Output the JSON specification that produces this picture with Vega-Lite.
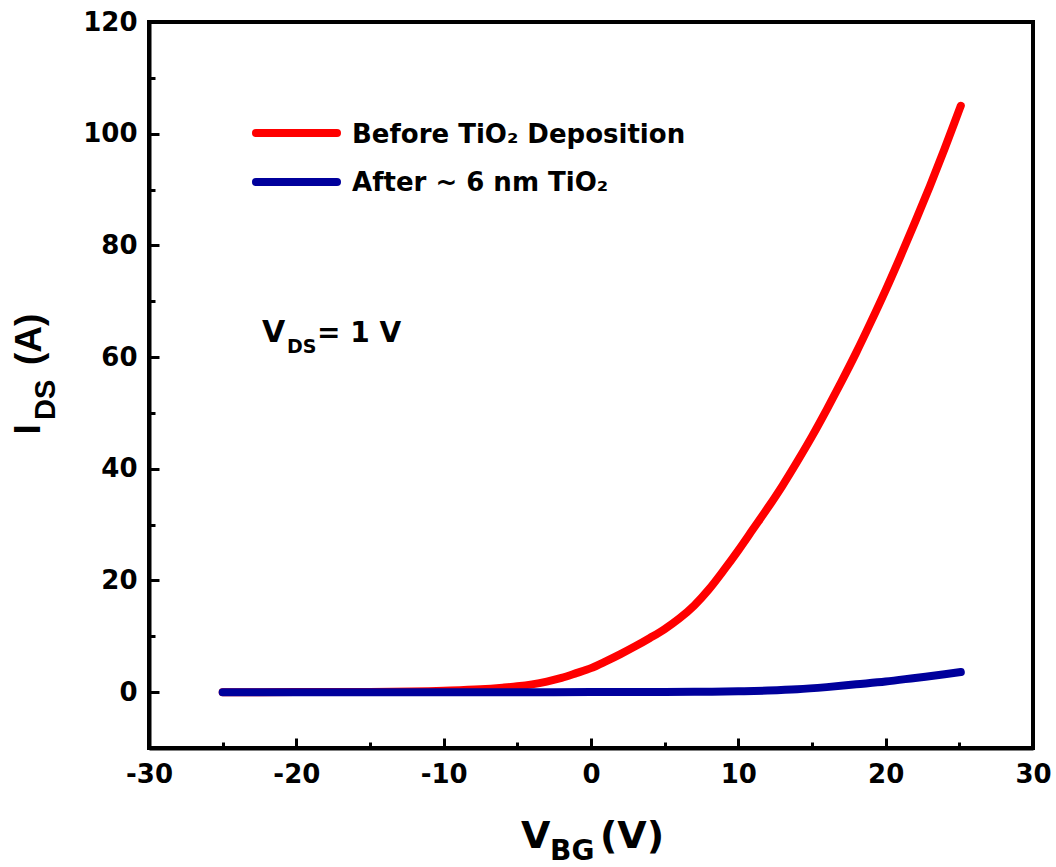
{
  "$schema": "https://vega.github.io/schema/vega-lite/v6.json",
  "width": 884,
  "height": 726,
  "autosize": {"type": "none"},
  "padding": {"left": 149, "top": 22, "right": 23, "bottom": 119},
  "background": "white",
  "config": {
    "view": {"stroke": "black", "strokeWidth": 4},
    "font": "DejaVu Sans"
  },
  "datasets": {
    "before": [
      {"x": -25, "y": 0.0}, {"x": -20, "y": 0.01}, {"x": -15, "y": 0.05}, {"x": -10, "y": 0.25},
      {"x": -7.5, "y": 0.5}, {"x": -6, "y": 0.8}, {"x": -5, "y": 1.05}, {"x": -4, "y": 1.4},
      {"x": -3, "y": 1.9}, {"x": -2, "y": 2.55}, {"x": -1, "y": 3.4}, {"x": 0, "y": 4.3},
      {"x": 1, "y": 5.5}, {"x": 2, "y": 6.8}, {"x": 3, "y": 8.2}, {"x": 4, "y": 9.7},
      {"x": 5, "y": 11.3}, {"x": 6, "y": 13.2}, {"x": 7, "y": 15.5}, {"x": 8, "y": 18.4},
      {"x": 9, "y": 21.8}, {"x": 10, "y": 25.4}, {"x": 11, "y": 29.2}, {"x": 12, "y": 33.0},
      {"x": 13, "y": 37.0}, {"x": 14, "y": 41.3}, {"x": 15, "y": 45.8}, {"x": 16, "y": 50.6},
      {"x": 17, "y": 55.6}, {"x": 18, "y": 60.8}, {"x": 19, "y": 66.3}, {"x": 20, "y": 72.0},
      {"x": 21, "y": 78.0}, {"x": 22, "y": 84.2}, {"x": 23, "y": 90.6}, {"x": 24, "y": 97.3},
      {"x": 25, "y": 104.3}, {"x": 25.1, "y": 105.0}
    ],
    "after": [
      {"x": -25, "y": 0.0}, {"x": -15, "y": 0.0}, {"x": -5, "y": 0.0}, {"x": 0, "y": 0.01},
      {"x": 5, "y": 0.03}, {"x": 7, "y": 0.06}, {"x": 10, "y": 0.15}, {"x": 12, "y": 0.28},
      {"x": 14, "y": 0.5}, {"x": 16, "y": 0.9}, {"x": 18, "y": 1.4}, {"x": 20, "y": 1.9},
      {"x": 22, "y": 2.55}, {"x": 24, "y": 3.2}, {"x": 25.1, "y": 3.6}
    ],
    "legendLines": [
      {"x": -22.74, "x2": -17.24, "y": 100.13, "series": "Before TiO₂ Deposition"},
      {"x": -22.74, "x2": -17.24, "y": 91.35, "series": "After ~ 6 nm TiO₂"}
    ],
    "legendText": [
      {"x": -16.22, "y": 98.33, "label": "Before TiO₂ Deposition"},
      {"x": -16.22, "y": 89.74, "label": "After ~ 6 nm TiO₂"}
    ],
    "bigNote": [
      {"x": -22.33, "y": 62.7, "label": "V"}
    ],
    "noteSub": [
      {"x": -20.63, "y": 60.73, "label": "DS"}
    ],
    "noteRest": [
      {"x": -18.6, "y": 62.7, "label": "= 1 V"}
    ],
    "xTitleMain": [
      {"x": -4.75, "y": -27.89, "label": "V"},
      {"x": 0.61, "y": -27.89, "label": "(V)"}
    ],
    "xTitleSub": [
      {"x": -2.78, "y": -30.05, "label": "BG"}
    ],
    "yTitleMain": [
      {"x": -37.4, "y": 46.14, "label": "I"},
      {"x": -37.3, "y": 58.59, "label": "(A)"}
    ],
    "yTitleSub": [
      {"x": -36.38, "y": 48.74, "label": "DS"}
    ]
  },
  "encoding": {
    "x": {
      "field": "x",
      "type": "quantitative",
      "scale": {"domain": [-30, 30], "nice": false, "zero": false},
      "axis": {
        "title": null,
        "grid": false,
        "values": [-30, -25, -20, -15, -10, -5, 0, 5, 10, 15, 20, 25, 30],
        "labelExpr": "datum.value % 10 === 0 ? toString(datum.value) : ''",
        "tickSize": {"condition": {"test": "datum.value % 10 === 0", "value": -10}, "value": -6},
        "tickWidth": 3,
        "tickColor": "black",
        "domainColor": "black",
        "domainWidth": 4,
        "labelFont": "DejaVu Sans",
        "labelFontWeight": "bold",
        "labelFontSize": 26,
        "labelColor": "black",
        "labelPadding": 23,
        "labelFlush": false,
        "labelOverlap": false
      }
    },
    "y": {
      "field": "y",
      "type": "quantitative",
      "scale": {"domain": [-10, 120], "nice": false, "zero": false},
      "axis": {
        "title": null,
        "grid": false,
        "values": [0, 10, 20, 30, 40, 50, 60, 70, 80, 90, 100, 110, 120],
        "labelExpr": "datum.value % 20 === 0 ? toString(datum.value) : ''",
        "tickSize": {"condition": {"test": "datum.value % 20 === 0", "value": -10}, "value": -6},
        "tickWidth": 3,
        "tickColor": "black",
        "domainColor": "black",
        "domainWidth": 4,
        "labelFont": "DejaVu Sans",
        "labelFontWeight": "bold",
        "labelFontSize": 26,
        "labelColor": "black",
        "labelPadding": 22,
        "labelFlush": false,
        "labelOverlap": false
      }
    }
  },
  "layer": [
    {
      "data": {"name": "before"},
      "mark": {"type": "line", "color": "#FF0000", "strokeWidth": 8, "strokeCap": "round", "interpolate": "monotone"}
    },
    {
      "data": {"name": "after"},
      "mark": {"type": "line", "color": "#00009C", "strokeWidth": 8, "strokeCap": "round", "interpolate": "monotone"}
    },
    {
      "data": {"name": "legendLines"},
      "mark": {"type": "rule", "strokeWidth": 8, "strokeCap": "round", "clip": false},
      "encoding": {
        "x2": {"field": "x2"},
        "color": {
          "field": "series",
          "type": "nominal",
          "scale": {"domain": ["Before TiO₂ Deposition", "After ~ 6 nm TiO₂"], "range": ["#FF0000", "#00009C"]},
          "legend": null
        }
      }
    },
    {
      "data": {"name": "legendText"},
      "mark": {"type": "text", "align": "left", "baseline": "alphabetic", "font": "DejaVu Sans", "fontWeight": "bold", "fontSize": 26, "color": "black", "clip": false},
      "encoding": {"text": {"field": "label"}}
    },
    {
      "data": {"name": "bigNote"},
      "mark": {"type": "text", "align": "left", "baseline": "alphabetic", "font": "DejaVu Sans", "fontWeight": "bold", "fontSize": 30, "color": "black", "clip": false},
      "encoding": {"text": {"field": "label"}}
    },
    {
      "data": {"name": "noteSub"},
      "mark": {"type": "text", "align": "left", "baseline": "alphabetic", "font": "DejaVu Sans", "fontWeight": "bold", "fontSize": 19, "color": "black", "clip": false},
      "encoding": {"text": {"field": "label"}}
    },
    {
      "data": {"name": "noteRest"},
      "mark": {"type": "text", "align": "left", "baseline": "alphabetic", "font": "DejaVu Sans", "fontWeight": "bold", "fontSize": 28, "color": "black", "clip": false},
      "encoding": {"text": {"field": "label"}}
    },
    {
      "data": {"name": "xTitleMain"},
      "mark": {"type": "text", "align": "left", "baseline": "alphabetic", "font": "DejaVu Sans", "fontWeight": "bold", "fontSize": 38, "color": "black", "clip": false},
      "encoding": {"text": {"field": "label"}}
    },
    {
      "data": {"name": "xTitleSub"},
      "mark": {"type": "text", "align": "left", "baseline": "alphabetic", "font": "DejaVu Sans", "fontWeight": "bold", "fontSize": 28, "color": "black", "clip": false},
      "encoding": {"text": {"field": "label"}}
    },
    {
      "data": {"name": "yTitleMain"},
      "mark": {"type": "text", "align": "left", "baseline": "alphabetic", "angle": -90, "font": "Liberation Sans", "fontWeight": "bold", "fontSize": 37, "color": "black", "clip": false},
      "encoding": {"text": {"field": "label"}}
    },
    {
      "data": {"name": "yTitleSub"},
      "mark": {"type": "text", "align": "left", "baseline": "alphabetic", "angle": -90, "font": "Liberation Sans", "fontWeight": "bold", "fontSize": 29, "color": "black", "clip": false},
      "encoding": {"text": {"field": "label"}}
    }
  ]
}
